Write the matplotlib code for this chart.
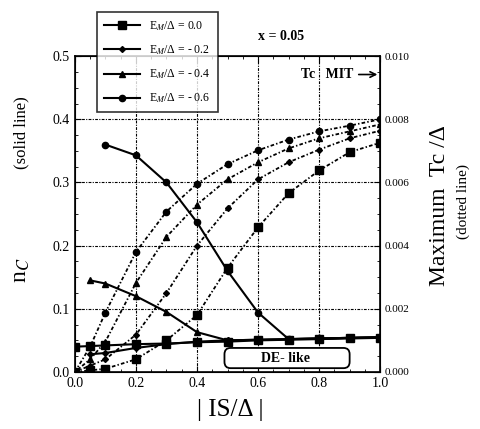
import matplotlib
matplotlib.use("Agg")
import matplotlib.pyplot as plt
import matplotlib.ticker as ticker
from matplotlib.patches import FancyBboxPatch

plt.rcParams['font.family'] = ['Liberation Serif', 'DejaVu Serif']
plt.rcParams['mathtext.fontset'] = 'stix'

# |IS/Delta| values
is_full = [0.0, 0.05, 0.1, 0.2, 0.3, 0.4, 0.5, 0.6, 0.7, 0.8, 0.9, 1.0]

# n_c (solid lines)
nc_x = {
    '0.0': [0.0, 0.05, 0.1, 0.2, 0.3, 0.4, 0.5, 0.6, 0.7, 0.8, 0.9, 1.0],
    '-0.2': [0.05, 0.1, 0.2, 0.3, 0.4, 0.5, 0.6, 0.7, 0.8, 0.9, 1.0],
    '-0.4': [0.05, 0.1, 0.2, 0.3, 0.4, 0.5, 0.6, 0.7, 0.8, 0.9, 1.0],
    '-0.6': [0.1, 0.2, 0.3, 0.4, 0.5, 0.6, 0.7, 0.8, 0.9, 1.0],
}
nc_y = {
    '0.0': [0.04, 0.041, 0.042, 0.044, 0.045, 0.047, 0.048, 0.05, 0.051, 0.052, 0.053, 0.054],
    '-0.2': [0.028, 0.03, 0.038, 0.044, 0.048, 0.05, 0.051, 0.052, 0.053, 0.054, 0.055],
    '-0.4': [0.145, 0.14, 0.12, 0.095, 0.063, 0.05, 0.051, 0.052, 0.053, 0.054, 0.055],
    '-0.6': [0.36, 0.343, 0.30, 0.237, 0.16, 0.094, 0.052, 0.053, 0.054, 0.055],
}

# maximum Tc/Delta (dotted lines)
tc_y = {
    '0.0': [0.0, 0.00005, 0.0001, 0.0004, 0.0010, 0.0018, 0.0033, 0.00458, 0.00566, 0.00638, 0.00696, 0.00726],
    '-0.2': [0.0, 0.0002, 0.0004, 0.00118, 0.0025, 0.0040, 0.00518, 0.0061, 0.00664, 0.00704, 0.0074, 0.00764],
    '-0.4': [0.0, 0.0004, 0.00096, 0.00282, 0.00428, 0.0053, 0.0061, 0.00664, 0.00708, 0.0074, 0.00762, 0.00784],
    '-0.6': [0.0, 0.0008, 0.00188, 0.0038, 0.00508, 0.00596, 0.00658, 0.00702, 0.00736, 0.00762, 0.0078, 0.008],
}

energies = ['0.0', '-0.2', '-0.4', '-0.6']
legend_labels = ['E$_M$/Δ = 0.0', 'E$_M$/Δ = - 0.2', 'E$_M$/Δ = - 0.4', 'E$_M$/Δ = - 0.6']
markers = {'0.0': 's', '-0.2': 'D', '-0.4': '^', '-0.6': 'o'}
msizes = {'0.0': 5.5, '-0.2': 3, '-0.4': 4, '-0.6': 4.5}

fig = plt.figure(figsize=(4.8, 4.29), dpi=100)
ax = fig.add_axes([0.156, 0.133, 0.636, 0.736])
ax2 = ax.twinx()

# grille pointillée
for gx in [0.2, 0.4, 0.6, 0.8]:
    ax.axvline(gx, color='black', lw=0.8, ls=(0, (2.5, 1.2, 1, 1.2)), zorder=0)
for gy in [0.1, 0.2, 0.3, 0.4]:
    ax.axhline(gy, color='black', lw=0.8, ls=(0, (2.5, 1.2, 1, 1.2)), zorder=0)

handles = []
for e, lab in zip(energies, legend_labels):
    h, = ax.plot(nc_x[e], nc_y[e], color='black', lw=1.5,
                 marker=markers[e], ms=msizes[e], label=lab)
    handles.append(h)
    ax2.plot(is_full, tc_y[e], color='black', lw=1.3, ls=(0, (2, 1.2, 0.8, 1.2)),
             marker=markers[e], ms=msizes[e])

ax.set_xlim(0, 1.0)
ax.set_ylim(0, 0.5)
ax2.set_ylim(0, 0.010)

ax.xaxis.set_major_locator(ticker.MultipleLocator(0.2))
ax.xaxis.set_minor_locator(ticker.MultipleLocator(0.05))
ax.yaxis.set_major_locator(ticker.MultipleLocator(0.1))
ax.yaxis.set_minor_locator(ticker.MultipleLocator(0.025))
ax.xaxis.set_major_formatter(ticker.FormatStrFormatter('%.1f'))
ax.yaxis.set_major_formatter(ticker.FormatStrFormatter('%.1f'))
ax2.yaxis.set_major_locator(ticker.MultipleLocator(0.002))
ax2.yaxis.set_minor_locator(ticker.MultipleLocator(0.0005))
ax2.yaxis.set_major_formatter(ticker.FormatStrFormatter('%.3f'))

ax.tick_params(which='both', direction='in', top=True, labelsize=10)
ax.tick_params(which='major', length=4)
ax.tick_params(which='minor', length=2)
ax2.tick_params(which='both', direction='in', labelsize=8)
ax2.tick_params(which='major', length=4)
ax2.tick_params(which='minor', length=2)
for sp in ax.spines.values():
    sp.set_linewidth(1.2)

# textes des axes
fig.text(0.045, 0.37, 'n$_C$', rotation=90, fontsize=17, ha='center', va='center')
fig.text(0.045, 0.69, '(solid line)', rotation=90, fontsize=12, ha='center', va='center')
fig.text(0.915, 0.52, 'Maximum  Tc /Δ', rotation=90, fontsize=17, ha='center', va='center')
fig.text(0.965, 0.53, '(dotted line)', rotation=90, fontsize=11, ha='center', va='center')
fig.text(0.48, 0.045, '| IS/Δ |', fontsize=18, ha='center', va='center')

fig.text(0.585, 0.915, 'x = 0.05', fontsize=10, fontweight='bold', ha='center', va='center')
ax.annotate('Tc   MIT', xy=(1.0, 0.471), xytext=(0.74, 0.471),
            fontsize=10, fontweight='bold', va='center',
            arrowprops=dict(arrowstyle='->', color='black', lw=1.2))

box = FancyBboxPatch((0.49, 0.006), 0.41, 0.032, boxstyle='round,pad=0.0,rounding_size=0.02',
                     transform=ax.transData, fc='white', ec='black', lw=1.3, zorder=5,
                     mutation_aspect=0.5)
ax.add_patch(box)
ax.text(0.69, 0.022, 'DE- like', fontsize=10, fontweight='bold', ha='center', va='center', zorder=6)

leg = fig.legend(handles=handles, loc='upper left', bbox_to_anchor=(0.19, 0.985),
                 fontsize=8.5, frameon=True, fancybox=False, edgecolor='black',
                 handlelength=3, borderpad=0.6, labelspacing=0.9)
leg.get_frame().set_linewidth(1.2)

fig.savefig('out.png', dpi=100)
